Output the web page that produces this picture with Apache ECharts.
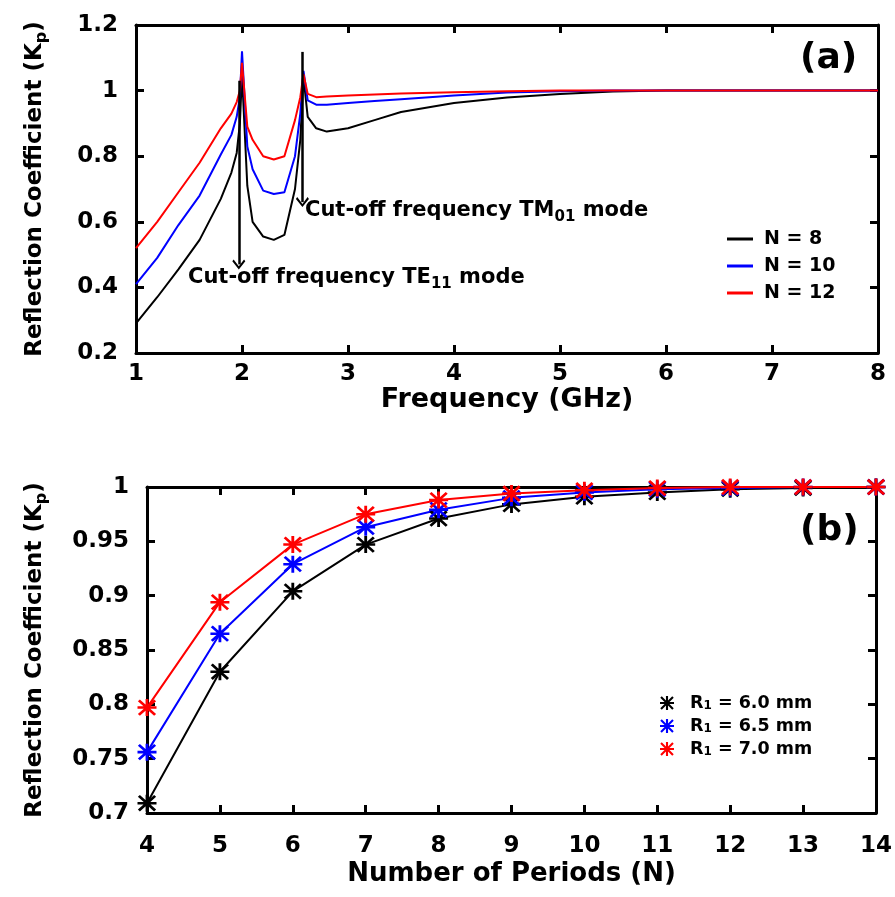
<!DOCTYPE html>
<html>
<head>
<meta charset="utf-8">
<script src="https://cdn.jsdelivr.net/npm/echarts@6/dist/echarts.min.js"></script>
<style>
  html, body { margin: 0; padding: 0; background: #fff; }
  #chart { width: 895px; height: 897px; }
</style>
</head>
<body>
<div id="chart"></div>
<script>
// (a) reflection coefficient vs frequency
var freq = [1, 1.2, 1.4, 1.6, 1.8, 1.9, 1.95, 1.98, 2.0, 2.05, 2.1, 2.2, 2.3, 2.4, 2.5, 2.55, 2.58, 2.62, 2.7, 2.8, 3.0, 3.25, 3.5, 4.0, 4.5, 5.0, 5.5, 6.0, 7.0, 8.0];
var kpN8  = [0.29, 0.37, 0.455, 0.545, 0.67, 0.75, 0.81, 0.9, 1.05, 0.71, 0.6, 0.555, 0.545, 0.56, 0.7, 0.85, 1.04, 0.92, 0.885, 0.875, 0.885, 0.91, 0.935, 0.962, 0.979, 0.99, 0.997, 1.0, 1.0, 1.0];
var kpN10 = [0.41, 0.49, 0.59, 0.68, 0.805, 0.865, 0.92, 0.98, 1.12, 0.83, 0.76, 0.695, 0.685, 0.69, 0.8, 0.93, 1.06, 0.97, 0.957, 0.957, 0.962, 0.968, 0.974, 0.985, 0.994, 0.998, 1.0, 1.0, 1.0, 1.0];
var kpN12 = [0.52, 0.6, 0.69, 0.78, 0.885, 0.93, 0.965, 1.0, 1.085, 0.89, 0.85, 0.8, 0.79, 0.8, 0.91, 0.98, 1.05, 0.99, 0.98, 0.982, 0.985, 0.988, 0.991, 0.995, 0.998, 1.0, 1.0, 1.0, 1.0, 1.0];
var namesA = ['N = 8', 'N = 10', 'N = 12'];
// cut-off arrows: [freq, from, to]
var arrowTE11 = [1.97, 1.03, 0.47];
var arrowTM01 = [2.57, 1.118, 0.66];

// (b) reflection coefficient vs number of periods
var periods = [4, 5, 6, 7, 8, 9, 10, 11, 12, 13, 14];
var kpR60 = [0.709, 0.830, 0.904, 0.947, 0.971, 0.984, 0.991, 0.995, 0.998, 0.999, 1.0];
var kpR65 = [0.756, 0.865, 0.929, 0.963, 0.979, 0.990, 0.995, 0.998, 0.999, 1.0, 1.0];
var kpR70 = [0.797, 0.894, 0.947, 0.975, 0.988, 0.994, 0.997, 0.999, 1.0, 1.0, 1.0];
var namesB = ['R1 = 6.0 mm', 'R1 = 6.5 mm', 'R1 = 7.0 mm'];

var colors = ['#000000', '#0000ff', '#ff0000'];
var FONT = 'DejaVu Sans';
// asterisk marker: + and x overlaid
var STAR = 'path://M0,8.5 L20,8.5 L20,11.5 L0,11.5 Z M8.5,0 L11.5,0 L11.5,20 L8.5,20 Z M2.5,0.4 L19.6,17.5 L17.5,19.6 L0.4,2.5 Z M17.5,0.4 L19.6,2.5 L2.5,19.6 L0.4,17.5 Z';
var HEAD = 'path://M0,9 L10,0 L20,9 L18,11 L10,3.5 L2,11 Z';

function zip(xs, ys) {
    return xs.map(function (x, i) { return [x, ys[i]]; });
}

function fmt(v) {
    return String(+v.toFixed(2));
}

var subRich = {
    a: { fontFamily: FONT, fontWeight: 'bold', fontSize: 21, color: '#000', lineHeight: 28, verticalAlign: 'middle' },
    s: { fontFamily: FONT, fontWeight: 'bold', fontSize: 15, color: '#000', lineHeight: 28, verticalAlign: 'bottom' }
};

function frameAxis(extra) {
    var ax = {
        type: 'value',
        axisLine: { onZero: false, lineStyle: { color: '#000', width: 3 } },
        axisTick: { inside: true, length: 8, lineStyle: { color: '#000', width: 3 } },
        splitLine: { show: false },
        axisLabel: { show: false }
    };
    for (var k in extra) ax[k] = extra[k];
    return ax;
}

var tickLabel = { show: true, color: '#000', fontFamily: FONT, fontWeight: 'bold', fontSize: 23, formatter: fmt };

var yName = {
    nameLocation: 'middle',
    nameTextStyle: {
        rich: {
            a: { fontFamily: FONT, fontWeight: 'bold', fontSize: 23, color: '#000', lineHeight: 30, verticalAlign: 'middle' },
            s: { fontFamily: FONT, fontWeight: 'bold', fontSize: 16, color: '#000', lineHeight: 30, verticalAlign: 'bottom' }
        }
    }
};

var option = {
    animation: false,
    backgroundColor: '#fff',
    grid: [
        { left: 136, top: 25, width: 742, height: 328 },
        { left: 147, top: 487, width: 731, height: 326 }
    ],
    xAxis: [
        frameAxis({ gridIndex: 0, position: 'bottom', min: 1, max: 8, interval: 1,
            axisLabel: Object.assign({}, tickLabel, { margin: 10 }),
            name: 'Frequency (GHz)', nameLocation: 'middle', nameGap: 27,
            nameTextStyle: { color: '#000', fontFamily: FONT, fontWeight: 'bold', fontSize: 27 } }),
        frameAxis({ gridIndex: 0, position: 'top', min: 1, max: 8, interval: 1 }),
        frameAxis({ gridIndex: 1, position: 'bottom', min: 4, max: 14, interval: 1,
            axisLabel: Object.assign({}, tickLabel, { margin: 22 }),
            name: 'Number of Periods (N)', nameLocation: 'middle', nameGap: 48,
            nameTextStyle: { color: '#000', fontFamily: FONT, fontWeight: 'bold', fontSize: 26 } }),
        frameAxis({ gridIndex: 1, position: 'top', min: 4, max: 14, interval: 1 })
    ],
    yAxis: [
        frameAxis(Object.assign({ gridIndex: 0, position: 'left', min: 0.2, max: 1.2, interval: 0.2,
            axisLabel: Object.assign({}, tickLabel, { margin: 18 }),
            name: '{a|Reflection Coefficient (K}{s|p}{a|)}', nameGap: 86 }, yName)),
        frameAxis({ gridIndex: 0, position: 'right', min: 0.2, max: 1.2, interval: 0.2 }),
        frameAxis(Object.assign({ gridIndex: 1, position: 'left', min: 0.7, max: 1, interval: 0.05,
            axisLabel: Object.assign({}, tickLabel, { margin: 18 }),
            name: '{a|Reflection Coefficient (K}{s|p}{a|)}', nameGap: 97 }, yName)),
        frameAxis({ gridIndex: 1, position: 'right', min: 0.7, max: 1, interval: 0.05 })
    ],
    legend: [
        {
            data: namesA, orient: 'vertical', left: 722, top: 224,
            icon: 'rect', itemWidth: 26, itemHeight: 3, itemGap: 7,
            textStyle: { color: '#000', fontFamily: FONT, fontWeight: 'bold', fontSize: 19, lineHeight: 20, padding: [0, 0, 0, 6] }
        },
        {
            data: namesB, orient: 'vertical', left: 655, top: 689,
            icon: STAR, itemWidth: 24, itemHeight: 14, itemGap: 5,
            formatter: function (n) { return '{a|R}{s|1}{a|' + n.slice(2) + '}'; },
            textStyle: {
                padding: [0, 0, 0, 6],
                rich: {
                    a: { fontFamily: FONT, fontWeight: 'bold', fontSize: 17.5, color: '#000', lineHeight: 18, verticalAlign: 'middle' },
                    s: { fontFamily: FONT, fontWeight: 'bold', fontSize: 12, color: '#000', lineHeight: 18, verticalAlign: 'bottom' }
                }
            }
        }
    ],
    graphic: [
        { type: 'text', left: 800, top: 41, style: { text: '(a)', font: 'bold 36px "DejaVu Sans"', fill: '#000' } },
        { type: 'text', left: 800, top: 513, style: { text: '(b)', font: 'bold 36px "DejaVu Sans"', fill: '#000' } },
        { type: 'text', left: 305, top: 200, style: { text: '{a|Cut-off frequency TM}{s|01}{a| mode}', rich: subRich } },
        { type: 'text', left: 188, top: 267, style: { text: '{a|Cut-off frequency TE}{s|11}{a| mode}', rich: subRich } }
    ],
    series: [
        { name: namesA[0], type: 'line', xAxisIndex: 0, yAxisIndex: 0, data: zip(freq, kpN8), showSymbol: false, symbol: 'none',
          lineStyle: { color: colors[0], width: 2 }, itemStyle: { color: colors[0] },
          markLine: {
              silent: true, symbol: ['none', HEAD], symbolSize: [13, 10],
              lineStyle: { color: '#000', width: 2.5, type: 'solid' }, label: { show: false },
              data: [
                  [{ coord: [arrowTE11[0], arrowTE11[1]] }, { coord: [arrowTE11[0], arrowTE11[2]] }],
                  [{ coord: [arrowTM01[0], arrowTM01[1]] }, { coord: [arrowTM01[0], arrowTM01[2]] }]
              ]
          } },
        { name: namesA[1], type: 'line', xAxisIndex: 0, yAxisIndex: 0, data: zip(freq, kpN10), showSymbol: false, symbol: 'none',
          lineStyle: { color: colors[1], width: 2 }, itemStyle: { color: colors[1] } },
        { name: namesA[2], type: 'line', xAxisIndex: 0, yAxisIndex: 0, data: zip(freq, kpN12), showSymbol: false, symbol: 'none',
          lineStyle: { color: colors[2], width: 2 }, itemStyle: { color: colors[2] } },

        { name: namesB[0], type: 'line', xAxisIndex: 2, yAxisIndex: 2, data: zip(periods, kpR60), clip: false,
          symbol: STAR, symbolSize: [19, 17], lineStyle: { color: colors[0], width: 2 }, itemStyle: { color: colors[0] } },
        { name: namesB[1], type: 'line', xAxisIndex: 2, yAxisIndex: 2, data: zip(periods, kpR65), clip: false,
          symbol: STAR, symbolSize: [19, 17], lineStyle: { color: colors[1], width: 2 }, itemStyle: { color: colors[1] } },
        { name: namesB[2], type: 'line', xAxisIndex: 2, yAxisIndex: 2, data: zip(periods, kpR70), clip: false,
          symbol: STAR, symbolSize: [19, 17], lineStyle: { color: colors[2], width: 2 }, itemStyle: { color: colors[2] } }
    ]
};

var myChart = echarts.init(document.getElementById('chart'));
myChart.setOption(option);
</script>
</body>
</html>
